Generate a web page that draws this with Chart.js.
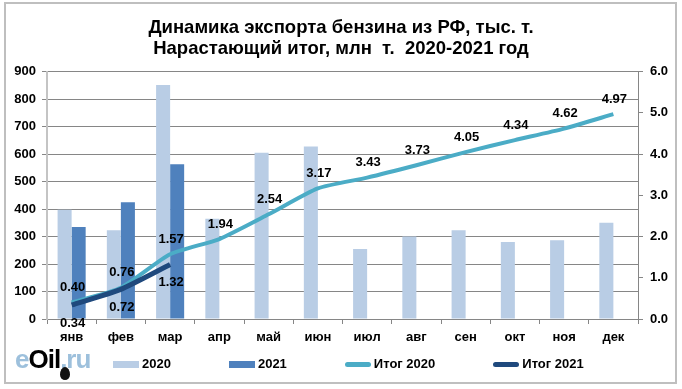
<!DOCTYPE html>
<html>
<head>
<meta charset="utf-8">
<script src="https://cdn.jsdelivr.net/npm/chart.js@4/dist/chart.umd.min.js"></script>
<style>
  html, body { margin: 0; padding: 0; background: #fff; }
  #wrap { position: relative; width: 682px; height: 389px; overflow: hidden; font-family: "Liberation Sans", Arial, sans-serif; }
  #frame { position: absolute; left: 4px; top: 2px; width: 669px; height: 378px; border: 2px solid #bfbfbf; }
  canvas { position: absolute; left: 0; top: 0; }
  #legend { position: absolute; left: 113px; top: 357px; display: flex; font-size: 13px; font-weight: bold; line-height: 14px; color: #000; }
  #legend .item { display: flex; align-items: center; margin-right: 58px; white-space: nowrap; }
  #legend .swatch { display: inline-block; width: 26px; margin-right: 3px; }
  #logo { position: absolute; left: 15px; top: 345px; font-size: 26px; font-weight: bold; line-height: 28px; letter-spacing: -1px; color: #9dc0dc; }
  #logo b { color: #000; }
  #drop { position: absolute; left: 60px; top: 367px; width: 10px; height: 13px; background: #111; border-radius: 50% 50% 50% 50% / 60% 60% 40% 40%; }
</style>
</head>
<body>
<div id="wrap">
  <div id="frame"></div>
  <canvas id="chart" width="682" height="389"></canvas>
  <div id="legend"></div>
  <div id="logo">e<b>Oil</b>.ru</div>
  <div id="drop"></div>
</div>
<script>
const months = ['янв','фев','мар','апр','май','июн','июл','авг','сен','окт','ноя','дек'];
const export2020 = [398, 323, 852, 365, 605, 628, 255, 300, 323, 280, 287, 350];
const export2021 = [335, 425, 563];
const total2020 = [0.40, 0.76, 1.57, 1.94, 2.54, 3.17, 3.43, 3.73, 4.05, 4.34, 4.62, 4.97];
const total2021 = [0.34, 0.72, 1.32];
const titleLines = ['Динамика экспорта бензина из РФ, тыс. т.', 'Нарастающий итог, млн  т.  2020-2021 год'];

const tickfont = { family: "'Liberation Sans', Arial, sans-serif", size: 13, weight: "bold" };

// values on the two lines, above for 2020 and below for 2021
const lineLabels = {
  id: 'lineLabels',
  afterDatasetsDraw(chart) {
    const c = chart.ctx;
    c.save();
    c.font = "bold 13px 'Liberation Sans', Arial, sans-serif";
    c.fillStyle = '#000';
    c.textAlign = 'center';
    c.textBaseline = 'middle';
    chart.data.datasets.forEach((ds, i) => {
      if (ds.type !== 'line') return;
      chart.getDatasetMeta(i).data.forEach((pt, k) => {
        const shift = ds.label === 'Итог 2020' ? -15 : 18;
        c.fillText(ds.data[k].toFixed(2), pt.x + 1, pt.y + shift);
      });
    });
    c.restore();
  }
};

const myChart = new Chart(document.getElementById('chart'), {
  type: 'bar',
  data: {
    labels: months,
    datasets: [
      { label: '2020', data: export2020, backgroundColor: '#B9CDE5', yAxisID: 'y', order: 2 },
      { label: '2021', data: export2021, backgroundColor: '#4F81BD', yAxisID: 'y', order: 3 },
      { type: 'line', label: 'Итог 2020', data: total2020, borderColor: '#4BACC6', borderWidth: 4, tension: 0.2, pointRadius: 0, yAxisID: 'y1', order: 1 },
      { type: 'line', label: 'Итог 2021', data: total2021, borderColor: '#1F497D', borderWidth: 5, tension: 0.2, pointRadius: 0, yAxisID: 'y1', order: 0 }
    ]
  },
  options: {
    responsive: false,
    animation: false,
    layout: { padding: 0 },
    datasets: { bar: { categoryPercentage: 0.57, barPercentage: 1 } },
    plugins: {
      legend: { display: false },
      tooltip: { enabled: false },
      title: {
        display: true,
        text: titleLines,
        color: '#000',
        font: { family: "'Liberation Sans', Arial, sans-serif", size: 18.5, weight: 'bold', lineHeight: 1.1 },
        padding: { top: 18, bottom: 13 }
      }
    },
    scales: {
      x: {
        afterFit(scale) { scale.height = 70; },
        border: { display: true, color: '#868686' },
        grid: { display: true, offset: true, drawOnChartArea: false, drawTicks: true, tickLength: 5, color: '#868686' },
        ticks: { color: '#000', font: tickfont, padding: 6, maxRotation: 0, autoSkip: false }
      },
      y: {
        position: 'left',
        min: 0, max: 900,
        afterFit(scale) { scale.width = 47; },
        border: { display: true, color: '#c4c4c4', width: 2 },
        grid: { color: '#868686', tickLength: 5 },
        ticks: { stepSize: 100, color: '#000', font: tickfont, padding: 6 }
      },
      y1: {
        position: 'right',
        min: 0, max: 6,
        afterFit(scale) { scale.width = 44; },
        border: { display: true, color: '#868686' },
        grid: { drawOnChartArea: false, color: '#868686', tickLength: 5 },
        ticks: { stepSize: 1, color: '#000', font: tickfont, padding: 7, callback: v => v.toFixed(1) }
      }
    }
  },
  plugins: [lineLabels]
});

// legend row, same order as the datasets
const legendBox = document.getElementById('legend');
myChart.data.datasets.forEach(ds => {
  const item = document.createElement('span');
  item.className = 'item';
  const sw = document.createElement('span');
  sw.className = 'swatch';
  const isLine = ds.type === 'line';
  sw.style.height = isLine ? '5px' : '7px';
  sw.style.borderRadius = isLine ? '3px' : '0';
  sw.style.background = isLine ? ds.borderColor : ds.backgroundColor;
  item.appendChild(sw);
  item.appendChild(document.createTextNode(ds.label));
  legendBox.appendChild(item);
});
</script>
</body>
</html>
